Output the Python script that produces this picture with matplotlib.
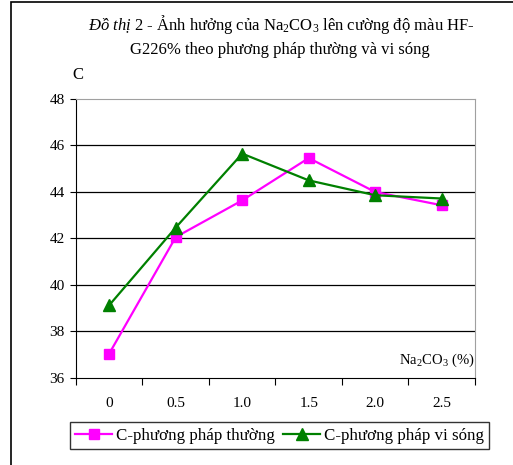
import matplotlib
matplotlib.use("Agg")
import matplotlib.pyplot as plt
from matplotlib.patches import Rectangle

# data
categories = ["0", "0.5", "1.0", "1.5", "2.0", "2.5"]
c_thuong = [37.05, 42.06, 43.64, 45.46, 44.0, 43.43]
c_visong = [39.13, 42.47, 45.65, 44.5, 43.86, 43.72]
yticks = [36, 38, 40, 42, 44, 46, 48]

plt.rcParams['font.family'] = ['Liberation Serif', 'DejaVu Serif']
plt.rcParams['mathtext.fontset'] = 'custom'
plt.rcParams['mathtext.rm'] = 'Liberation Serif'
plt.rcParams['mathtext.it'] = 'Liberation Serif:italic'

fig = plt.figure(figsize=(5.13, 4.65), dpi=100)
ax = fig.add_axes([0.1481, 0.1871, 0.7778, 0.6])

# outer frame of the chart object (only left and top edges fall inside the picture)
fig.patches.append(Rectangle((11 / 513, -0.1), 1.2, 1.1 - 2 / 465,
                             transform=fig.transFigure, fill=False,
                             edgecolor="black", linewidth=1.2, clip_on=False))

x = list(range(len(categories)))
ax.plot(x, c_thuong, color="#ff00ff", lw=1.6, marker="s", ms=7,
        label="C-phương pháp thường", zorder=3)
ax.plot(x, c_visong, color="#008000", lw=1.6, marker="^", ms=8,
        label="C-phương pháp vi sóng", zorder=4)

ax.set_xlim(-0.5, len(categories) - 0.5)
ax.set_ylim(36, 48)
ax.set_yticks(yticks)
ax.tick_params(axis="y", direction="out", length=4, labelsize=11, pad=4)
for yv in yticks[1:-1]:
    ax.axhline(yv, color="black", lw=0.9, zorder=1)

# category axis: ticks on the boundaries, labels at the centres
ax.set_xticks([i - 0.5 for i in range(len(categories) + 1)])
ax.set_xticklabels([])
ax.set_xticks(x, minor=True)
ax.set_xticklabels(categories, minor=True)
ax.tick_params(axis="x", which="major", direction="out", length=5)
ax.tick_params(axis="x", which="minor", length=0, labelsize=11, pad=14)

for s in ["top", "right"]:
    ax.spines[s].set_color("#a0a0a0")
for s in ["left", "bottom"]:
    ax.spines[s].set_color("black")

ax.text(5.5, 36.4, "Na$_2$CO$_3$ (%)", ha="right", va="bottom", fontsize=10.5)
fig.text(78 / 513, 1 - 75 / 465, "C", ha="center", va="center", fontsize=12)

fig.text(281 / 513, 1 - 25 / 465,
         r"$\mathit{Đồ\ thị\ 2}$" + " - Ảnh hưởng của Na$_2$CO$_3$ lên cường độ màu HF-",
         ha="center", va="center", fontsize=12)
fig.text(280 / 513, 1 - 50 / 465, "G226% theo phương pháp thường và vi sóng",
         ha="center", va="center", fontsize=12)

leg = fig.legend(loc="center", bbox_to_anchor=(279.5 / 513, 1 - 435.5 / 465), ncol=2,
                 fontsize=12.2, frameon=True, fancybox=False, handlelength=2.2,
                 columnspacing=0.5, handletextpad=0.2, borderpad=0.3)
leg.get_frame().set_edgecolor("black")
leg.get_frame().set_linewidth(1.0)

fig.savefig("out.png", dpi=100)
